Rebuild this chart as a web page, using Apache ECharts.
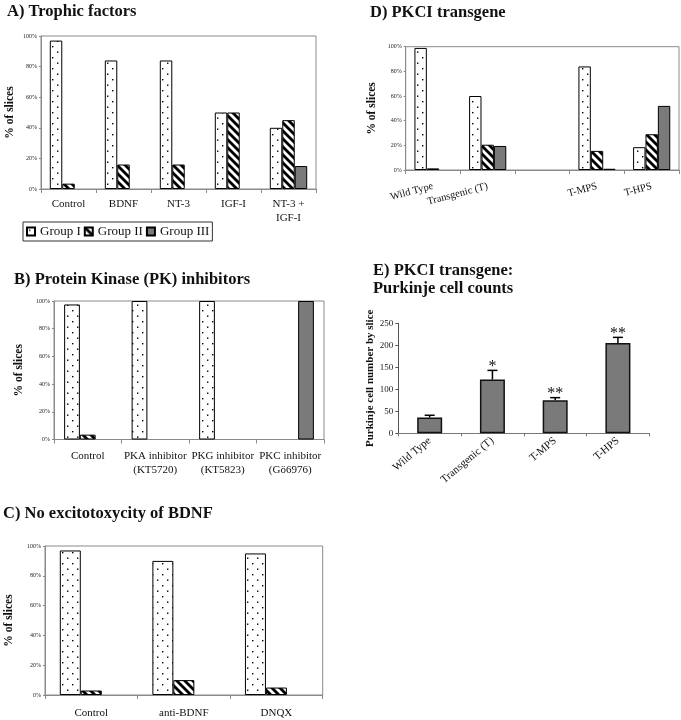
<!DOCTYPE html>
<html><head><meta charset="utf-8">
<script src="https://cdn.jsdelivr.net/npm/echarts@6/dist/echarts.min.js"></script>
<style>html,body{margin:0;padding:0;background:#fff}#c{width:681px;height:720px}</style>
</head><body><div id="c"></div>
<script>
// ---------- data ----------
const groupNames = ['Group I', 'Group II', 'Group III'];
const catA = ['Control', 'BDNF', 'NT-3', 'IGF-I', 'NT-3 +\nIGF-I'];
const a1 = [97, 84, 84, 50, 40];
const a2 = [3.5, 16, 16, 50, 45];
const a3 = [0, 0, 0, 0, 15];
const catB = ['Control', 'PKA inhibitor\n(KT5720)', 'PKG inhibitor\n(KT5823)', 'PKC inhibitor\n(Gö6976)'];
const b1 = [97.5, 100, 100, 0];
const b2 = [3.5, 0, 0, 0];
const b3 = [0, 0, 0, 100];
const catC = ['Control', 'anti-BDNF', 'DNQX'];
const c1 = [97, 90, 95];
const c2 = [3, 10, 5];
const c3 = [0, 0, 0];
const catD = ['Wild Type', 'Transgenic (T)', '', 'T-MPS', 'T-HPS'];
const d1 = [99, 60, 0, 84, 18.5];
const d2 = [1.3, 20.5, 0, 15.5, 29];
const d3 = [0, 19.5, 0, 1, 52];
const catE = ['Wild Type', 'Transgenic (T)', 'T-MPS', 'T-HPS'];
const eMean = [36, 122, 75, 205];
const eErr = [5, 21, 6, 13];
const eSig = ['', '*', '**', '**'];
const pctTicks = [0, 20, 40, 60, 80, 100];
const countTicks = [0, 50, 100, 150, 200, 250];

// ---------- patterns ----------
function dotPattern() {
  const c = document.createElement('canvas'); c.width = 10; c.height = 11;
  const g = c.getContext('2d');
  g.fillStyle = '#fff'; g.fillRect(0, 0, 10, 11);
  g.fillStyle = '#000';
  g.fillRect(2, 2, 1.4, 1.4); g.fillRect(7, 7.5, 1.4, 1.4);
  return c;
}
function stripePattern() {
  const s = 8;
  const c = document.createElement('canvas'); c.width = s; c.height = s;
  const g = c.getContext('2d');
  g.fillStyle = '#fff'; g.fillRect(0, 0, s, s);
  g.strokeStyle = '#000'; g.lineWidth = 2.8;
  for (const k of [-1, 0, 1]) {
    g.beginPath(); g.moveTo(k * s - 1, -1); g.lineTo(k * s + s + 1, s + 1); g.stroke();
  }
  return c;
}
const fills = [
  { image: dotPattern(), repeat: 'repeat' },
  { image: stripePattern(), repeat: 'repeat' },
  '#7a7a7a'
];
const FF = 'Liberation Serif';
const frame = '#8a8a8a';

const grids = [
  { left: 41, top: 36, width: 275, height: 153 },
  { left: 54, top: 301, width: 270, height: 138.5 },
  { left: 45, top: 546, width: 277.7, height: 149.7 },
  { left: 405.7, top: 46.7, width: 273.3, height: 123.3 },
  { left: 398.3, top: 323.3, width: 251, height: 110 }
];
const gaps = ['32%', '30%', '32%', '32%'];
const cats = [catA, catB, catC, catD];
const panelData = [[a1, a2, a3], [b1, b2, b3], [c1, c2, c3], [d1, d2, d3]];
const labelMargin = [8, 10, 11, 16];
const nameGap = [25, 29, 30, 28];

const xAxes = [], yAxes = [], series = [];
for (let p = 0; p < 4; p++) {
  xAxes.push({
    type: 'category', gridIndex: p, data: cats[p],
    axisLine: { lineStyle: { color: frame, width: 1 } },
    axisTick: { show: true, length: 4, lineStyle: { color: frame } },
    axisLabel: {
      interval: 0, fontFamily: FF, fontSize: p === 3 ? 10.5 : 11, color: '#111',
      margin: labelMargin[p], lineHeight: 14, rotate: p === 3 ? 15 : 0
    }
  });
  yAxes.push({
    type: 'value', gridIndex: p, min: pctTicks[0], max: pctTicks[pctTicks.length - 1],
    interval: pctTicks[1] - pctTicks[0],
    axisLine: { show: true, lineStyle: { color: frame } },
    axisTick: { show: true, length: 2, lineStyle: { color: frame } },
    splitLine: { show: false },
    axisLabel: { formatter: '{value}%', fontFamily: FF, fontSize: 6, color: '#222', margin: 4 },
    name: '% of slices', nameLocation: 'middle', nameGap: nameGap[p], nameRotate: 90,
    nameTextStyle: { fontFamily: FF, fontWeight: 'bold', fontSize: 11.5, color: '#111' }
  });
  panelData[p].forEach((arr, i) => {
    series.push({
      type: 'bar', name: groupNames[i], xAxisIndex: p, yAxisIndex: p,
      data: arr.map(v => v === 0 ? '-' : v),
      barGap: '0%', barCategoryGap: gaps[p],
      itemStyle: { color: fills[i], borderColor: '#000', borderWidth: 1 },
      silent: true
    });
  });
}
// Panel E
xAxes.push({
  type: 'category', gridIndex: 4, data: catE,
  axisLine: { lineStyle: { color: '#777' } },
  axisTick: { show: true, length: 3, lineStyle: { color: '#777' } },
  axisLabel: { interval: 0, fontFamily: FF, fontSize: 11, color: '#111', rotate: 40, margin: 6 }
});
yAxes.push({
  type: 'value', gridIndex: 4, min: countTicks[0], max: countTicks[countTicks.length - 1],
  interval: countTicks[1] - countTicks[0],
  axisLine: { show: true, lineStyle: { color: '#555' } },
  axisTick: { show: true, length: 3, lineStyle: { color: '#555' } },
  splitLine: { show: false },
  axisLabel: { fontFamily: FF, fontSize: 9, color: '#222', margin: 5 },
  name: 'Purkinje cell number by slice', nameLocation: 'middle', nameGap: 22, nameRotate: 90,
  nameTextStyle: { fontFamily: FF, fontWeight: 'bold', fontSize: 11, color: '#111' }
});
series.push({
  type: 'bar', xAxisIndex: 4, yAxisIndex: 4, data: eMean, barWidth: 25,
  itemStyle: { color: '#7a7a7a', borderColor: '#111', borderWidth: 1.5 }, silent: true
});
series.push({
  type: 'custom', xAxisIndex: 4, yAxisIndex: 4, silent: true,
  data: eMean.map((m, i) => [i, m, m + eErr[i]]),
  renderItem: function (params, api) {
    const x = api.value(0);
    const p0 = api.coord([x, api.value(1)]);
    const p1 = api.coord([x, api.value(2)]);
    const cap = 5;
    const st = { stroke: '#000', lineWidth: 1.5 };
    return {
      type: 'group', children: [
        { type: 'line', shape: { x1: p0[0], y1: p0[1], x2: p1[0], y2: p1[1] }, style: st },
        { type: 'line', shape: { x1: p1[0] - cap, y1: p1[1], x2: p1[0] + cap, y2: p1[1] }, style: st },
        { type: 'text', x: p1[0], y: p1[1] + 4, style: {
            text: eSig[params.dataIndex], fontFamily: FF, fontSize: 16, fill: '#111',
            align: 'center', verticalAlign: 'bottom' } }
      ]
    };
  }
});

const titleStyle = { fontFamily: FF, fontWeight: 'bold', fontSize: 16.5, color: '#111', lineHeight: 18 };
const option = {
  animation: false,
  backgroundColor: '#fff',
  title: [
    { text: 'A) Trophic factors', left: 7, top: 3, padding: 0, textStyle: titleStyle },
    { text: 'B) Protein Kinase (PK) inhibitors', left: 14, top: 271, padding: 0, textStyle: titleStyle },
    { text: 'C) No excitotoxycity of BDNF', left: 3, top: 505, padding: 0, textStyle: titleStyle },
    { text: 'D) PKCI transgene', left: 370, top: 4, padding: 0, textStyle: titleStyle },
    { text: 'E) PKCI transgene:\nPurkinje cell counts', left: 373, top: 262, padding: 0, textStyle: titleStyle }
  ],
  legend: {
    data: groupNames, left: 23, top: 222, itemWidth: 8, itemHeight: 8, itemGap: 3, icon: 'rect',
    padding: [3, 3, 3, 3], borderColor: '#333', borderWidth: 1, selectedMode: false,
    textStyle: { fontFamily: FF, fontSize: 13, color: '#111' }
  },
  grid: grids.map((g, i) => Object.assign({ show: i < 4, borderColor: frame, borderWidth: 1, backgroundColor: 'transparent' }, g)),
  xAxis: xAxes,
  yAxis: yAxes,
  series: series
};
const chart = echarts.init(document.getElementById('c'), null, { renderer: 'canvas' });
chart.setOption(option);
</script>
</body></html>
